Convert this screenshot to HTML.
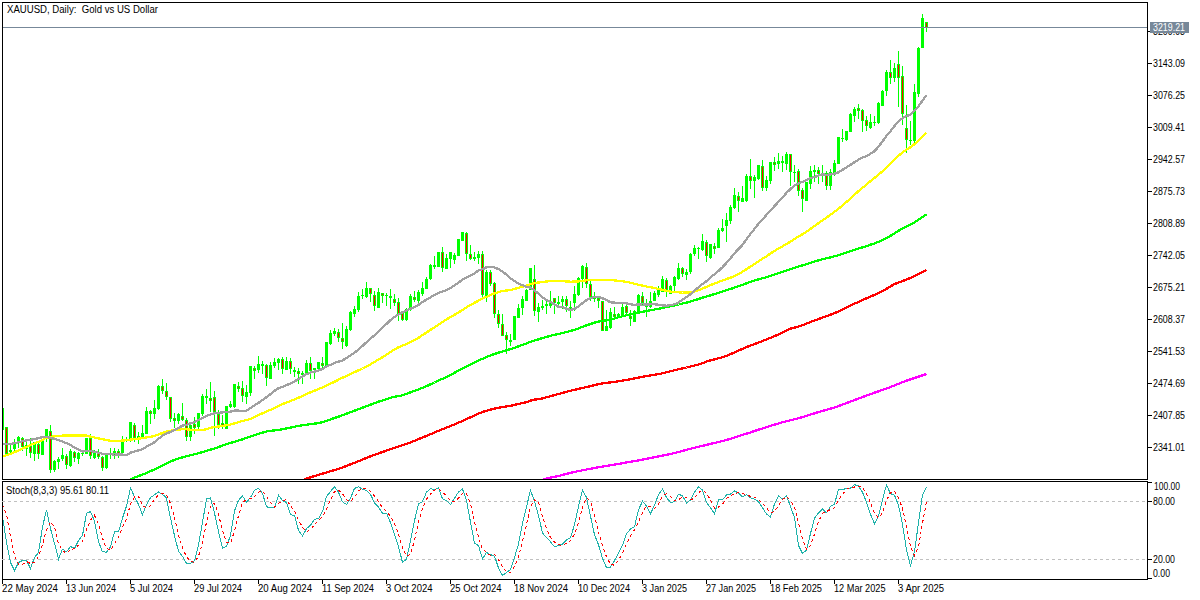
<!DOCTYPE html><html><head><meta charset="utf-8"><title>XAUUSD Daily</title><style>html,body{margin:0;padding:0;background:#fff;}svg{display:block;}text{white-space:pre;}</style></head><body>
<svg width="1200" height="600" viewBox="0 0 1200 600">
<defs><clipPath id="cm"><rect x="3" y="3" width="1144" height="476"/></clipPath><clipPath id="cs"><rect x="3" y="482" width="1144" height="97"/></clipPath></defs>
<rect width="1200" height="600" fill="#ffffff"/>
<g clip-path="url(#cm)" shape-rendering="crispEdges" fill="#00ff00"><rect x="2" y="408" width="1" height="22"/><rect x="1" y="408" width="3" height="22"/><rect x="6" y="427" width="1" height="27"/><rect x="5" y="427" width="3" height="27"/><rect x="6" y="428" width="1" height="25" fill="#ff0000"/><rect x="10" y="445" width="1" height="9"/><rect x="9" y="450" width="3" height="2"/><rect x="14" y="439" width="1" height="12"/><rect x="13" y="442" width="3" height="7"/><rect x="18" y="436" width="1" height="12"/><rect x="17" y="437" width="3" height="5"/><rect x="22" y="437" width="1" height="14"/><rect x="21" y="438" width="3" height="9"/><rect x="22" y="439" width="1" height="7" fill="#ff0000"/><rect x="26" y="442" width="1" height="14"/><rect x="25" y="445" width="3" height="4"/><rect x="30" y="438" width="1" height="20"/><rect x="29" y="446" width="3" height="7"/><rect x="30" y="447" width="1" height="5" fill="#ff0000"/><rect x="34" y="442" width="1" height="19"/><rect x="33" y="442" width="3" height="12"/><rect x="38" y="442" width="1" height="17"/><rect x="37" y="444" width="3" height="10"/><rect x="38" y="445" width="1" height="8" fill="#ff0000"/><rect x="42" y="441" width="1" height="14"/><rect x="41" y="441" width="3" height="14"/><rect x="46" y="429" width="1" height="13"/><rect x="45" y="429" width="3" height="7"/><rect x="50" y="425" width="1" height="48"/><rect x="49" y="431" width="3" height="39"/><rect x="50" y="432" width="1" height="37" fill="#ff0000"/><rect x="54" y="460" width="1" height="12"/><rect x="53" y="461" width="3" height="9"/><rect x="58" y="457" width="1" height="12"/><rect x="57" y="459" width="3" height="3"/><rect x="62" y="448" width="1" height="13"/><rect x="61" y="455" width="3" height="4"/><rect x="66" y="454" width="1" height="15"/><rect x="65" y="456" width="3" height="9"/><rect x="66" y="457" width="1" height="7" fill="#ff0000"/><rect x="70" y="449" width="1" height="18"/><rect x="69" y="451" width="3" height="15"/><rect x="74" y="451" width="1" height="11"/><rect x="73" y="452" width="3" height="6"/><rect x="74" y="453" width="1" height="4" fill="#ff0000"/><rect x="78" y="452" width="1" height="12"/><rect x="77" y="453" width="3" height="6"/><rect x="82" y="451" width="1" height="5"/><rect x="81" y="453" width="3" height="1"/><rect x="86" y="438" width="1" height="16"/><rect x="85" y="438" width="3" height="16"/><rect x="90" y="434" width="1" height="25"/><rect x="89" y="438" width="3" height="18"/><rect x="90" y="439" width="1" height="16" fill="#ff0000"/><rect x="94" y="450" width="1" height="9"/><rect x="93" y="452" width="3" height="6"/><rect x="98" y="449" width="1" height="10"/><rect x="97" y="452" width="3" height="5"/><rect x="98" y="453" width="1" height="3" fill="#ff0000"/><rect x="102" y="456" width="1" height="15"/><rect x="101" y="457" width="3" height="11"/><rect x="102" y="458" width="1" height="9" fill="#ff0000"/><rect x="106" y="454" width="1" height="15"/><rect x="105" y="454" width="3" height="14"/><rect x="110" y="448" width="1" height="11"/><rect x="109" y="454" width="3" height="1"/><rect x="114" y="448" width="1" height="11"/><rect x="113" y="451" width="3" height="4"/><rect x="118" y="449" width="1" height="9"/><rect x="117" y="451" width="3" height="3"/><rect x="118" y="452" width="1" height="1" fill="#ff0000"/><rect x="122" y="436" width="1" height="17"/><rect x="121" y="439" width="3" height="14"/><rect x="126" y="437" width="1" height="5"/><rect x="125" y="439" width="3" height="1"/><rect x="130" y="422" width="1" height="20"/><rect x="129" y="422" width="3" height="17"/><rect x="134" y="423" width="1" height="19"/><rect x="133" y="425" width="3" height="13"/><rect x="134" y="426" width="1" height="11" fill="#ff0000"/><rect x="138" y="432" width="1" height="12"/><rect x="137" y="436" width="3" height="2"/><rect x="142" y="425" width="1" height="13"/><rect x="141" y="433" width="3" height="4"/><rect x="146" y="407" width="1" height="27"/><rect x="145" y="411" width="3" height="23"/><rect x="150" y="410" width="1" height="14"/><rect x="149" y="411" width="3" height="3"/><rect x="150" y="412" width="1" height="1" fill="#ff0000"/><rect x="154" y="400" width="1" height="19"/><rect x="153" y="408" width="3" height="6"/><rect x="158" y="385" width="1" height="25"/><rect x="157" y="386" width="3" height="23"/><rect x="162" y="379" width="1" height="15"/><rect x="161" y="386" width="3" height="5"/><rect x="162" y="387" width="1" height="3" fill="#ff0000"/><rect x="166" y="383" width="1" height="17"/><rect x="165" y="391" width="3" height="6"/><rect x="166" y="392" width="1" height="4" fill="#ff0000"/><rect x="170" y="397" width="1" height="25"/><rect x="169" y="397" width="3" height="22"/><rect x="170" y="398" width="1" height="20" fill="#ff0000"/><rect x="174" y="413" width="1" height="15"/><rect x="173" y="418" width="3" height="3"/><rect x="174" y="419" width="1" height="1" fill="#ff0000"/><rect x="178" y="413" width="1" height="11"/><rect x="177" y="414" width="3" height="7"/><rect x="182" y="403" width="1" height="18"/><rect x="181" y="416" width="3" height="4"/><rect x="182" y="417" width="1" height="2" fill="#ff0000"/><rect x="186" y="418" width="1" height="23"/><rect x="185" y="420" width="3" height="17"/><rect x="186" y="421" width="1" height="15" fill="#ff0000"/><rect x="190" y="425" width="1" height="16"/><rect x="189" y="425" width="3" height="12"/><rect x="194" y="417" width="1" height="17"/><rect x="193" y="424" width="3" height="4"/><rect x="194" y="425" width="1" height="2" fill="#ff0000"/><rect x="198" y="413" width="1" height="16"/><rect x="197" y="413" width="3" height="14"/><rect x="202" y="394" width="1" height="22"/><rect x="201" y="396" width="3" height="18"/><rect x="206" y="389" width="1" height="15"/><rect x="205" y="396" width="3" height="2"/><rect x="210" y="382" width="1" height="30"/><rect x="209" y="398" width="3" height="3"/><rect x="210" y="399" width="1" height="1" fill="#ff0000"/><rect x="214" y="391" width="1" height="45"/><rect x="213" y="397" width="3" height="15"/><rect x="214" y="398" width="1" height="13" fill="#ff0000"/><rect x="218" y="410" width="1" height="19"/><rect x="217" y="414" width="3" height="11"/><rect x="218" y="415" width="1" height="9" fill="#ff0000"/><rect x="222" y="415" width="1" height="14"/><rect x="221" y="423" width="3" height="3"/><rect x="222" y="424" width="1" height="1" fill="#ff0000"/><rect x="226" y="406" width="1" height="23"/><rect x="225" y="406" width="3" height="23"/><rect x="230" y="401" width="1" height="7"/><rect x="229" y="404" width="3" height="3"/><rect x="234" y="384" width="1" height="24"/><rect x="233" y="384" width="3" height="23"/><rect x="238" y="382" width="1" height="10"/><rect x="237" y="386" width="3" height="3"/><rect x="238" y="387" width="1" height="1" fill="#ff0000"/><rect x="242" y="381" width="1" height="21"/><rect x="241" y="388" width="3" height="8"/><rect x="242" y="389" width="1" height="6" fill="#ff0000"/><rect x="246" y="385" width="1" height="19"/><rect x="245" y="392" width="3" height="5"/><rect x="250" y="366" width="1" height="30"/><rect x="249" y="366" width="3" height="27"/><rect x="254" y="366" width="1" height="13"/><rect x="253" y="368" width="3" height="3"/><rect x="254" y="369" width="1" height="1" fill="#ff0000"/><rect x="258" y="356" width="1" height="17"/><rect x="257" y="364" width="3" height="6"/><rect x="262" y="361" width="1" height="13"/><rect x="261" y="364" width="3" height="2"/><rect x="266" y="364" width="1" height="22"/><rect x="265" y="365" width="3" height="13"/><rect x="266" y="366" width="1" height="11" fill="#ff0000"/><rect x="270" y="362" width="1" height="17"/><rect x="269" y="365" width="3" height="14"/><rect x="274" y="358" width="1" height="10"/><rect x="273" y="362" width="3" height="4"/><rect x="278" y="358" width="1" height="12"/><rect x="277" y="359" width="3" height="4"/><rect x="282" y="357" width="1" height="17"/><rect x="281" y="359" width="3" height="10"/><rect x="282" y="360" width="1" height="8" fill="#ff0000"/><rect x="286" y="357" width="1" height="13"/><rect x="285" y="361" width="3" height="9"/><rect x="290" y="358" width="1" height="16"/><rect x="289" y="361" width="3" height="8"/><rect x="290" y="362" width="1" height="6" fill="#ff0000"/><rect x="294" y="367" width="1" height="10"/><rect x="293" y="370" width="3" height="2"/><rect x="298" y="368" width="1" height="16"/><rect x="297" y="371" width="3" height="3"/><rect x="298" y="372" width="1" height="1" fill="#ff0000"/><rect x="302" y="371" width="1" height="13"/><rect x="301" y="373" width="3" height="2"/><rect x="306" y="360" width="1" height="14"/><rect x="305" y="363" width="3" height="11"/><rect x="310" y="357" width="1" height="22"/><rect x="309" y="363" width="3" height="8"/><rect x="310" y="364" width="1" height="6" fill="#ff0000"/><rect x="314" y="368" width="1" height="11"/><rect x="313" y="368" width="3" height="2"/><rect x="318" y="362" width="1" height="7"/><rect x="317" y="362" width="3" height="7"/><rect x="322" y="357" width="1" height="12"/><rect x="321" y="363" width="3" height="3"/><rect x="322" y="364" width="1" height="1" fill="#ff0000"/><rect x="326" y="342" width="1" height="24"/><rect x="325" y="342" width="3" height="24"/><rect x="330" y="330" width="1" height="15"/><rect x="329" y="333" width="3" height="11"/><rect x="334" y="328" width="1" height="8"/><rect x="333" y="331" width="3" height="3"/><rect x="338" y="329" width="1" height="13"/><rect x="337" y="332" width="3" height="6"/><rect x="338" y="333" width="1" height="4" fill="#ff0000"/><rect x="342" y="323" width="1" height="26"/><rect x="341" y="338" width="3" height="4"/><rect x="342" y="339" width="1" height="2" fill="#ff0000"/><rect x="346" y="326" width="1" height="21"/><rect x="345" y="329" width="3" height="17"/><rect x="350" y="311" width="1" height="20"/><rect x="349" y="312" width="3" height="18"/><rect x="354" y="306" width="1" height="11"/><rect x="353" y="309" width="3" height="5"/><rect x="358" y="292" width="1" height="20"/><rect x="357" y="296" width="3" height="14"/><rect x="362" y="289" width="1" height="10"/><rect x="361" y="295" width="3" height="1"/><rect x="366" y="282" width="1" height="16"/><rect x="365" y="288" width="3" height="9"/><rect x="370" y="288" width="1" height="14"/><rect x="369" y="288" width="3" height="6"/><rect x="370" y="289" width="1" height="4" fill="#ff0000"/><rect x="374" y="291" width="1" height="20"/><rect x="373" y="295" width="3" height="11"/><rect x="374" y="296" width="1" height="9" fill="#ff0000"/><rect x="378" y="288" width="1" height="20"/><rect x="377" y="292" width="3" height="16"/><rect x="382" y="293" width="1" height="10"/><rect x="381" y="293" width="3" height="3"/><rect x="382" y="294" width="1" height="1" fill="#ff0000"/><rect x="386" y="293" width="1" height="13"/><rect x="385" y="295" width="3" height="1"/><rect x="390" y="289" width="1" height="20"/><rect x="389" y="296" width="3" height="2"/><rect x="394" y="294" width="1" height="12"/><rect x="393" y="299" width="3" height="4"/><rect x="394" y="300" width="1" height="2" fill="#ff0000"/><rect x="398" y="298" width="1" height="23"/><rect x="397" y="302" width="3" height="12"/><rect x="398" y="303" width="1" height="10" fill="#ff0000"/><rect x="402" y="313" width="1" height="8"/><rect x="401" y="313" width="3" height="7"/><rect x="402" y="314" width="1" height="5" fill="#ff0000"/><rect x="406" y="308" width="1" height="13"/><rect x="405" y="309" width="3" height="11"/><rect x="410" y="294" width="1" height="17"/><rect x="409" y="296" width="3" height="14"/><rect x="414" y="291" width="1" height="11"/><rect x="413" y="297" width="3" height="3"/><rect x="414" y="298" width="1" height="1" fill="#ff0000"/><rect x="418" y="290" width="1" height="13"/><rect x="417" y="292" width="3" height="9"/><rect x="422" y="282" width="1" height="14"/><rect x="421" y="288" width="3" height="6"/><rect x="426" y="277" width="1" height="12"/><rect x="425" y="279" width="3" height="10"/><rect x="430" y="264" width="1" height="16"/><rect x="429" y="265" width="3" height="14"/><rect x="434" y="256" width="1" height="13"/><rect x="433" y="265" width="3" height="2"/><rect x="438" y="252" width="1" height="15"/><rect x="437" y="252" width="3" height="15"/><rect x="442" y="247" width="1" height="25"/><rect x="441" y="252" width="3" height="16"/><rect x="442" y="253" width="1" height="14" fill="#ff0000"/><rect x="446" y="254" width="1" height="15"/><rect x="445" y="258" width="3" height="11"/><rect x="450" y="252" width="1" height="16"/><rect x="449" y="252" width="3" height="7"/><rect x="454" y="253" width="1" height="11"/><rect x="453" y="255" width="3" height="5"/><rect x="458" y="239" width="1" height="17"/><rect x="457" y="239" width="3" height="17"/><rect x="462" y="232" width="1" height="9"/><rect x="461" y="232" width="3" height="9"/><rect x="466" y="232" width="1" height="29"/><rect x="465" y="233" width="3" height="21"/><rect x="466" y="234" width="1" height="19" fill="#ff0000"/><rect x="470" y="245" width="1" height="15"/><rect x="469" y="254" width="3" height="5"/><rect x="470" y="255" width="1" height="3" fill="#ff0000"/><rect x="474" y="252" width="1" height="9"/><rect x="473" y="257" width="3" height="2"/><rect x="478" y="251" width="1" height="13"/><rect x="477" y="254" width="3" height="4"/><rect x="482" y="251" width="1" height="47"/><rect x="481" y="254" width="3" height="41"/><rect x="482" y="255" width="1" height="39" fill="#ff0000"/><rect x="486" y="270" width="1" height="32"/><rect x="485" y="272" width="3" height="24"/><rect x="490" y="270" width="1" height="16"/><rect x="489" y="272" width="3" height="12"/><rect x="490" y="273" width="1" height="10" fill="#ff0000"/><rect x="494" y="282" width="1" height="36"/><rect x="493" y="283" width="3" height="31"/><rect x="494" y="284" width="1" height="29" fill="#ff0000"/><rect x="498" y="310" width="1" height="18"/><rect x="497" y="314" width="3" height="10"/><rect x="498" y="315" width="1" height="8" fill="#ff0000"/><rect x="502" y="314" width="1" height="22"/><rect x="501" y="324" width="3" height="12"/><rect x="502" y="325" width="1" height="10" fill="#ff0000"/><rect x="506" y="332" width="1" height="22"/><rect x="505" y="335" width="3" height="5"/><rect x="506" y="336" width="1" height="3" fill="#ff0000"/><rect x="510" y="334" width="1" height="12"/><rect x="509" y="340" width="3" height="2"/><rect x="514" y="316" width="1" height="24"/><rect x="513" y="316" width="3" height="24"/><rect x="518" y="304" width="1" height="14"/><rect x="517" y="308" width="3" height="10"/><rect x="522" y="296" width="1" height="19"/><rect x="521" y="299" width="3" height="9"/><rect x="526" y="289" width="1" height="12"/><rect x="525" y="290" width="3" height="11"/><rect x="530" y="268" width="1" height="22"/><rect x="529" y="268" width="3" height="22"/><rect x="534" y="265" width="1" height="51"/><rect x="533" y="279" width="3" height="32"/><rect x="534" y="280" width="1" height="30" fill="#ff0000"/><rect x="538" y="303" width="1" height="19"/><rect x="537" y="307" width="3" height="5"/><rect x="542" y="300" width="1" height="10"/><rect x="541" y="306" width="3" height="2"/><rect x="546" y="300" width="1" height="14"/><rect x="545" y="304" width="3" height="2"/><rect x="550" y="291" width="1" height="17"/><rect x="549" y="301" width="3" height="5"/><rect x="554" y="298" width="1" height="16"/><rect x="553" y="298" width="3" height="5"/><rect x="554" y="299" width="1" height="3" fill="#ff0000"/><rect x="558" y="296" width="1" height="12"/><rect x="557" y="302" width="3" height="2"/><rect x="562" y="296" width="1" height="13"/><rect x="561" y="299" width="3" height="3"/><rect x="566" y="296" width="1" height="16"/><rect x="565" y="299" width="3" height="7"/><rect x="566" y="300" width="1" height="5" fill="#ff0000"/><rect x="570" y="301" width="1" height="17"/><rect x="569" y="307" width="3" height="1"/><rect x="574" y="286" width="1" height="25"/><rect x="573" y="294" width="3" height="9"/><rect x="578" y="277" width="1" height="19"/><rect x="577" y="278" width="3" height="17"/><rect x="582" y="265" width="1" height="23"/><rect x="581" y="266" width="3" height="13"/><rect x="586" y="263" width="1" height="25"/><rect x="585" y="267" width="3" height="17"/><rect x="586" y="268" width="1" height="15" fill="#ff0000"/><rect x="590" y="279" width="1" height="22"/><rect x="589" y="284" width="3" height="13"/><rect x="590" y="285" width="1" height="11" fill="#ff0000"/><rect x="594" y="292" width="1" height="10"/><rect x="593" y="297" width="3" height="2"/><rect x="598" y="296" width="1" height="12"/><rect x="597" y="298" width="3" height="3"/><rect x="598" y="299" width="1" height="1" fill="#ff0000"/><rect x="602" y="301" width="1" height="30"/><rect x="601" y="301" width="3" height="30"/><rect x="602" y="302" width="1" height="28" fill="#ff0000"/><rect x="606" y="310" width="1" height="21"/><rect x="605" y="326" width="3" height="5"/><rect x="610" y="308" width="1" height="21"/><rect x="609" y="312" width="3" height="16"/><rect x="614" y="307" width="1" height="11"/><rect x="613" y="314" width="3" height="3"/><rect x="614" y="315" width="1" height="1" fill="#ff0000"/><rect x="618" y="313" width="1" height="5"/><rect x="617" y="314" width="3" height="4"/><rect x="622" y="304" width="1" height="12"/><rect x="621" y="307" width="3" height="9"/><rect x="626" y="305" width="1" height="9"/><rect x="625" y="306" width="3" height="7"/><rect x="626" y="307" width="1" height="5" fill="#ff0000"/><rect x="630" y="310" width="1" height="16"/><rect x="629" y="316" width="3" height="3"/><rect x="630" y="317" width="1" height="1" fill="#ff0000"/><rect x="634" y="310" width="1" height="12"/><rect x="633" y="311" width="3" height="11"/><rect x="638" y="294" width="1" height="18"/><rect x="637" y="295" width="3" height="17"/><rect x="642" y="292" width="1" height="14"/><rect x="641" y="296" width="3" height="7"/><rect x="642" y="297" width="1" height="5" fill="#ff0000"/><rect x="646" y="299" width="1" height="18"/><rect x="645" y="304" width="3" height="3"/><rect x="646" y="305" width="1" height="1" fill="#ff0000"/><rect x="650" y="292" width="1" height="16"/><rect x="649" y="301" width="3" height="6"/><rect x="654" y="291" width="1" height="10"/><rect x="653" y="293" width="3" height="8"/><rect x="658" y="286" width="1" height="11"/><rect x="657" y="289" width="3" height="6"/><rect x="662" y="276" width="1" height="16"/><rect x="661" y="279" width="3" height="13"/><rect x="666" y="278" width="1" height="19"/><rect x="665" y="280" width="3" height="10"/><rect x="666" y="281" width="1" height="8" fill="#ff0000"/><rect x="670" y="285" width="1" height="9"/><rect x="669" y="286" width="3" height="8"/><rect x="674" y="276" width="1" height="15"/><rect x="673" y="277" width="3" height="9"/><rect x="678" y="263" width="1" height="17"/><rect x="677" y="268" width="3" height="11"/><rect x="682" y="267" width="1" height="10"/><rect x="681" y="268" width="3" height="6"/><rect x="682" y="269" width="1" height="4" fill="#ff0000"/><rect x="686" y="269" width="1" height="11"/><rect x="685" y="272" width="3" height="3"/><rect x="690" y="253" width="1" height="21"/><rect x="689" y="254" width="3" height="18"/><rect x="694" y="245" width="1" height="11"/><rect x="693" y="248" width="3" height="6"/><rect x="698" y="247" width="1" height="12"/><rect x="697" y="248" width="3" height="1"/><rect x="702" y="234" width="1" height="17"/><rect x="701" y="241" width="3" height="9"/><rect x="706" y="240" width="1" height="22"/><rect x="705" y="242" width="3" height="14"/><rect x="706" y="243" width="1" height="12" fill="#ff0000"/><rect x="710" y="244" width="1" height="15"/><rect x="709" y="244" width="3" height="14"/><rect x="714" y="243" width="1" height="11"/><rect x="713" y="246" width="3" height="3"/><rect x="714" y="247" width="1" height="1" fill="#ff0000"/><rect x="718" y="228" width="1" height="20"/><rect x="717" y="230" width="3" height="18"/><rect x="722" y="219" width="1" height="13"/><rect x="721" y="228" width="3" height="3"/><rect x="726" y="213" width="1" height="29"/><rect x="725" y="220" width="3" height="6"/><rect x="730" y="205" width="1" height="19"/><rect x="729" y="207" width="3" height="14"/><rect x="734" y="188" width="1" height="21"/><rect x="733" y="195" width="3" height="13"/><rect x="738" y="192" width="1" height="20"/><rect x="737" y="196" width="3" height="5"/><rect x="738" y="197" width="1" height="3" fill="#ff0000"/><rect x="742" y="186" width="1" height="16"/><rect x="741" y="198" width="3" height="4"/><rect x="746" y="174" width="1" height="28"/><rect x="745" y="176" width="3" height="25"/><rect x="750" y="159" width="1" height="30"/><rect x="749" y="176" width="3" height="5"/><rect x="750" y="177" width="1" height="3" fill="#ff0000"/><rect x="754" y="175" width="1" height="23"/><rect x="753" y="177" width="3" height="4"/><rect x="758" y="165" width="1" height="15"/><rect x="757" y="165" width="3" height="14"/><rect x="762" y="160" width="1" height="31"/><rect x="761" y="166" width="3" height="22"/><rect x="762" y="167" width="1" height="20" fill="#ff0000"/><rect x="766" y="176" width="1" height="15"/><rect x="765" y="180" width="3" height="8"/><rect x="770" y="162" width="1" height="22"/><rect x="769" y="162" width="3" height="19"/><rect x="774" y="157" width="1" height="14"/><rect x="773" y="162" width="3" height="3"/><rect x="774" y="163" width="1" height="1" fill="#ff0000"/><rect x="778" y="153" width="1" height="16"/><rect x="777" y="161" width="3" height="3"/><rect x="782" y="156" width="1" height="16"/><rect x="781" y="161" width="3" height="2"/><rect x="786" y="152" width="1" height="18"/><rect x="785" y="154" width="3" height="10"/><rect x="790" y="154" width="1" height="32"/><rect x="789" y="154" width="3" height="18"/><rect x="790" y="155" width="1" height="16" fill="#ff0000"/><rect x="794" y="165" width="1" height="17"/><rect x="793" y="172" width="3" height="1"/><rect x="798" y="169" width="1" height="27"/><rect x="797" y="171" width="3" height="20"/><rect x="798" y="172" width="1" height="18" fill="#ff0000"/><rect x="802" y="188" width="1" height="24"/><rect x="801" y="190" width="3" height="9"/><rect x="802" y="191" width="1" height="7" fill="#ff0000"/><rect x="806" y="182" width="1" height="19"/><rect x="805" y="182" width="3" height="19"/><rect x="810" y="166" width="1" height="23"/><rect x="809" y="171" width="3" height="13"/><rect x="814" y="165" width="1" height="17"/><rect x="813" y="170" width="3" height="2"/><rect x="818" y="167" width="1" height="17"/><rect x="817" y="170" width="3" height="4"/><rect x="818" y="171" width="1" height="2" fill="#ff0000"/><rect x="822" y="165" width="1" height="17"/><rect x="821" y="173" width="3" height="1"/><rect x="826" y="171" width="1" height="19"/><rect x="825" y="173" width="3" height="13"/><rect x="826" y="174" width="1" height="11" fill="#ff0000"/><rect x="830" y="169" width="1" height="21"/><rect x="829" y="172" width="3" height="14"/><rect x="834" y="160" width="1" height="16"/><rect x="833" y="163" width="3" height="12"/><rect x="838" y="137" width="1" height="27"/><rect x="837" y="137" width="3" height="27"/><rect x="842" y="129" width="1" height="13"/><rect x="841" y="138" width="3" height="1"/><rect x="846" y="131" width="1" height="10"/><rect x="845" y="131" width="3" height="9"/><rect x="850" y="113" width="1" height="19"/><rect x="849" y="114" width="3" height="18"/><rect x="854" y="107" width="1" height="15"/><rect x="853" y="109" width="3" height="7"/><rect x="858" y="104" width="1" height="15"/><rect x="857" y="108" width="3" height="3"/><rect x="858" y="109" width="1" height="1" fill="#ff0000"/><rect x="862" y="109" width="1" height="23"/><rect x="861" y="110" width="3" height="11"/><rect x="862" y="111" width="1" height="9" fill="#ff0000"/><rect x="866" y="116" width="1" height="15"/><rect x="865" y="120" width="3" height="6"/><rect x="866" y="121" width="1" height="4" fill="#ff0000"/><rect x="870" y="114" width="1" height="15"/><rect x="869" y="122" width="3" height="6"/><rect x="874" y="116" width="1" height="10"/><rect x="873" y="122" width="3" height="1"/><rect x="878" y="102" width="1" height="22"/><rect x="877" y="103" width="3" height="20"/><rect x="882" y="90" width="1" height="16"/><rect x="881" y="91" width="3" height="15"/><rect x="886" y="70" width="1" height="26"/><rect x="885" y="72" width="3" height="19"/><rect x="890" y="60" width="1" height="24"/><rect x="889" y="72" width="3" height="6"/><rect x="890" y="73" width="1" height="4" fill="#ff0000"/><rect x="894" y="63" width="1" height="19"/><rect x="893" y="68" width="3" height="10"/><rect x="898" y="51" width="1" height="56"/><rect x="897" y="64" width="3" height="14"/><rect x="898" y="65" width="1" height="12" fill="#ff0000"/><rect x="902" y="66" width="1" height="59"/><rect x="901" y="76" width="3" height="38"/><rect x="902" y="77" width="1" height="36" fill="#ff0000"/><rect x="906" y="105" width="1" height="48"/><rect x="905" y="128" width="3" height="12"/><rect x="906" y="129" width="1" height="10" fill="#ff0000"/><rect x="910" y="121" width="1" height="24"/><rect x="909" y="140" width="3" height="1"/><rect x="914" y="84" width="1" height="60"/><rect x="913" y="92" width="3" height="49"/><rect x="918" y="47" width="1" height="50"/><rect x="917" y="48" width="3" height="46"/><rect x="922" y="14" width="1" height="34"/><rect x="921" y="18" width="3" height="30"/><rect x="926" y="22" width="1" height="10"/><rect x="925" y="22" width="3" height="6"/><rect x="926" y="23" width="1" height="4" fill="#ff0000"/></g>
<g clip-path="url(#cm)" stroke-linejoin="round" shape-rendering="crispEdges">
<polyline points="538.5,481.0 542.5,479.8 546.5,478.5 550.5,477.6 554.5,476.8 558.5,476.0 562.5,474.9 566.5,473.9 570.5,472.9 574.5,471.9 578.5,471.1 582.5,470.3 586.5,469.5 590.5,468.7 594.5,468.0 598.5,467.3 602.5,466.6 606.5,465.9 610.5,465.2 614.5,464.6 618.5,463.9 622.5,463.2 626.5,462.5 630.5,461.8 634.5,461.1 638.5,460.4 642.5,459.6 646.5,458.8 650.5,458.0 654.5,457.2 658.5,456.4 662.5,455.6 666.5,454.8 670.5,454.0 674.5,453.1 678.5,452.0 682.5,450.9 686.5,449.8 690.5,448.7 694.5,447.7 698.5,446.8 702.5,445.8 706.5,444.9 710.5,443.9 714.5,443.0 718.5,442.0 722.5,441.1 726.5,440.0 730.5,438.8 734.5,437.5 738.5,436.2 742.5,434.9 746.5,433.7 750.5,432.4 754.5,431.0 758.5,429.7 762.5,428.4 766.5,427.1 770.5,425.9 774.5,424.7 778.5,423.5 782.5,422.3 786.5,421.2 790.5,420.2 794.5,419.2 798.5,418.2 802.5,417.1 806.5,415.8 810.5,414.6 814.5,413.3 818.5,412.1 822.5,410.9 826.5,409.8 830.5,408.7 834.5,407.5 838.5,406.1 842.5,404.6 846.5,403.1 850.5,401.6 854.5,400.0 858.5,398.6 862.5,397.1 866.5,395.6 870.5,394.1 874.5,392.7 878.5,391.3 882.5,389.9 886.5,388.5 890.5,387.0 894.5,385.4 898.5,383.8 902.5,382.2 906.5,380.7 910.5,379.3 914.5,378.0 918.5,376.7 922.5,375.3 926.5,374.0" fill="none" stroke="#ff00ff" stroke-width="2.3" />
<polyline points="298.5,481.5 302.5,480.5 306.5,478.6 310.5,477.3 314.5,476.1 318.5,474.9 322.5,473.7 326.5,472.5 330.5,471.3 334.5,470.1 338.5,468.9 342.5,467.5 346.5,465.9 350.5,464.3 354.5,462.8 358.5,461.2 362.5,459.6 366.5,457.9 370.5,456.3 374.5,454.8 378.5,453.4 382.5,452.0 386.5,450.6 390.5,449.2 394.5,447.9 398.5,446.6 402.5,445.2 406.5,443.9 410.5,442.4 414.5,440.8 418.5,439.1 422.5,437.5 426.5,435.9 430.5,434.2 434.5,432.5 438.5,430.8 442.5,429.2 446.5,427.6 450.5,426.0 454.5,424.4 458.5,422.7 462.5,420.9 466.5,419.1 470.5,417.3 474.5,415.5 478.5,413.7 482.5,411.9 486.5,410.8 490.5,409.7 494.5,408.6 498.5,407.8 502.5,407.1 506.5,406.4 510.5,405.8 514.5,404.9 518.5,404.0 522.5,403.1 526.5,402.1 530.5,400.7 534.5,399.6 538.5,399.2 542.5,398.4 546.5,397.3 550.5,396.2 554.5,395.1 558.5,394.0 562.5,392.9 566.5,391.8 570.5,390.8 574.5,389.8 578.5,388.9 582.5,388.0 586.5,387.1 590.5,386.1 594.5,385.1 598.5,384.2 602.5,383.4 606.5,382.9 610.5,382.4 614.5,381.9 618.5,381.2 622.5,380.6 626.5,379.9 630.5,379.2 634.5,378.4 638.5,377.6 642.5,376.8 646.5,376.0 650.5,375.4 654.5,374.8 658.5,374.1 662.5,373.3 666.5,372.2 670.5,371.2 674.5,370.3 678.5,369.3 682.5,368.4 686.5,367.5 690.5,366.5 694.5,365.5 698.5,364.5 702.5,363.2 706.5,361.6 710.5,360.4 714.5,359.4 718.5,358.3 722.5,357.3 726.5,355.8 730.5,354.2 734.5,352.4 738.5,350.6 742.5,348.8 746.5,347.1 750.5,345.6 754.5,344.1 758.5,342.6 762.5,341.0 766.5,339.4 770.5,337.8 774.5,336.2 778.5,334.4 782.5,332.5 786.5,330.6 790.5,328.7 794.5,327.6 798.5,326.5 802.5,325.2 806.5,323.6 810.5,322.0 814.5,320.5 818.5,319.1 822.5,317.6 826.5,316.2 830.5,314.7 834.5,313.1 838.5,311.5 842.5,309.7 846.5,307.7 850.5,305.7 854.5,303.7 858.5,301.9 862.5,300.1 866.5,298.3 870.5,296.6 874.5,294.9 878.5,293.2 882.5,291.2 886.5,288.8 890.5,286.4 894.5,284.1 898.5,282.5 902.5,281.0 906.5,279.6 910.5,277.9 914.5,276.2 918.5,274.2 922.5,272.1 926.5,270.0" fill="none" stroke="#ff0000" stroke-width="2.3" />
<polyline points="130.5,479.7 134.5,477.6 138.5,476.1 142.5,474.5 146.5,473.0 150.5,471.2 154.5,469.4 158.5,467.6 162.5,465.7 166.5,463.7 170.5,461.7 174.5,459.8 178.5,458.6 182.5,457.4 186.5,456.2 190.5,455.2 194.5,454.2 198.5,453.2 202.5,452.1 206.5,450.9 210.5,449.7 214.5,448.5 218.5,447.1 222.5,445.6 226.5,444.2 230.5,443.0 234.5,441.8 238.5,440.6 242.5,439.3 246.5,437.9 250.5,436.5 254.5,435.1 258.5,433.9 262.5,432.7 266.5,431.5 270.5,430.9 274.5,430.4 278.5,429.9 282.5,429.2 286.5,428.4 290.5,427.6 294.5,426.7 298.5,425.9 302.5,425.2 306.5,424.7 310.5,424.1 314.5,423.6 318.5,423.1 322.5,422.1 326.5,420.8 330.5,419.4 334.5,418.0 338.5,416.7 342.5,415.2 346.5,413.7 350.5,412.2 354.5,410.7 358.5,409.2 362.5,407.7 366.5,406.2 370.5,404.7 374.5,403.2 378.5,401.7 382.5,400.4 386.5,399.2 390.5,397.9 394.5,396.7 398.5,396.2 402.5,395.3 406.5,393.8 410.5,392.3 414.5,390.9 418.5,389.4 422.5,387.8 426.5,386.2 430.5,384.3 434.5,382.5 438.5,380.5 442.5,378.8 446.5,377.0 450.5,374.9 454.5,372.8 458.5,370.6 462.5,368.4 466.5,366.3 470.5,364.4 474.5,362.3 478.5,360.4 482.5,358.8 486.5,357.1 490.5,355.4 494.5,354.0 498.5,352.7 502.5,351.4 506.5,350.2 510.5,349.1 514.5,347.8 518.5,346.3 522.5,344.9 526.5,343.4 530.5,341.9 534.5,340.6 538.5,339.3 542.5,338.0 546.5,337.0 550.5,335.8 554.5,334.8 558.5,334.0 562.5,333.0 566.5,332.1 570.5,331.0 574.5,329.8 578.5,328.4 582.5,326.9 586.5,325.3 590.5,324.0 594.5,322.7 598.5,321.6 602.5,321.0 606.5,320.3 610.5,319.4 614.5,318.5 618.5,317.3 622.5,316.2 626.5,315.2 630.5,314.4 634.5,313.6 638.5,312.7 642.5,311.8 646.5,310.9 650.5,310.3 654.5,309.5 658.5,308.8 662.5,307.9 666.5,307.0 670.5,306.2 674.5,305.4 678.5,304.5 682.5,303.5 686.5,302.6 690.5,301.5 694.5,300.3 698.5,299.0 702.5,297.7 706.5,296.6 710.5,295.3 714.5,294.1 718.5,292.8 722.5,291.4 726.5,290.2 730.5,289.0 734.5,287.6 738.5,286.2 742.5,284.8 746.5,283.3 750.5,281.9 754.5,280.6 758.5,279.3 762.5,278.2 766.5,277.2 770.5,275.9 774.5,274.4 778.5,273.1 782.5,271.8 786.5,270.4 790.5,269.1 794.5,267.8 798.5,266.6 802.5,265.4 806.5,264.1 810.5,262.9 814.5,261.6 818.5,260.4 822.5,259.2 826.5,258.3 830.5,257.4 834.5,256.3 838.5,255.2 842.5,253.9 846.5,252.6 850.5,251.2 854.5,249.8 858.5,248.5 862.5,247.4 866.5,246.1 870.5,244.7 874.5,243.4 878.5,241.9 882.5,239.8 886.5,237.8 890.5,235.8 894.5,233.3 898.5,230.8 902.5,228.6 906.5,226.6 910.5,224.6 914.5,222.3 918.5,219.8 922.5,216.9 926.5,214.3" fill="none" stroke="#00ff00" stroke-width="2.3" />
<polyline points="2.5,456.5 6.5,455.3 10.5,453.8 14.5,452.1 18.5,450.5 22.5,448.7 26.5,446.8 30.5,445.0 34.5,443.4 38.5,441.8 42.5,439.9 46.5,437.6 50.5,436.9 54.5,436.4 58.5,435.9 62.5,435.6 66.5,435.6 70.5,435.6 74.5,435.6 78.5,435.6 82.5,435.6 86.5,435.6 90.5,436.6 94.5,437.5 98.5,438.4 102.5,439.2 106.5,440.0 110.5,440.7 114.5,440.9 118.5,440.8 122.5,440.6 126.5,440.1 130.5,439.6 134.5,439.1 138.5,438.6 142.5,438.1 146.5,437.5 150.5,436.9 154.5,435.9 158.5,434.4 162.5,433.0 166.5,431.6 170.5,430.8 174.5,430.2 178.5,429.8 182.5,429.2 186.5,429.2 190.5,429.8 194.5,430.0 198.5,430.2 202.5,430.0 206.5,429.2 210.5,427.9 214.5,427.0 218.5,426.5 222.5,426.0 226.5,425.3 230.5,424.6 234.5,423.4 238.5,422.2 242.5,421.0 246.5,420.1 250.5,418.9 254.5,417.1 258.5,415.0 262.5,413.3 266.5,411.5 270.5,409.8 274.5,407.9 278.5,406.0 282.5,404.1 286.5,402.5 290.5,401.0 294.5,399.4 298.5,397.7 302.5,396.0 306.5,394.1 310.5,392.3 314.5,390.7 318.5,389.0 322.5,387.4 326.5,385.5 330.5,383.7 334.5,381.8 338.5,379.7 342.5,377.7 346.5,376.1 350.5,374.1 354.5,372.2 358.5,370.3 362.5,368.5 366.5,366.5 370.5,364.3 374.5,361.9 378.5,359.4 382.5,357.2 386.5,354.7 390.5,352.0 394.5,349.5 398.5,347.2 402.5,345.6 406.5,344.0 410.5,342.2 414.5,340.2 418.5,337.8 422.5,335.1 426.5,332.6 430.5,329.8 434.5,327.3 438.5,324.7 442.5,322.0 446.5,319.4 450.5,317.1 454.5,314.8 458.5,312.5 462.5,309.9 466.5,307.3 470.5,304.9 474.5,302.8 478.5,300.7 482.5,298.5 486.5,296.8 490.5,295.0 494.5,293.3 498.5,292.2 502.5,291.0 506.5,290.5 510.5,290.0 514.5,289.0 518.5,287.8 522.5,286.6 526.5,285.5 530.5,284.3 534.5,283.0 538.5,282.5 542.5,282.1 546.5,281.5 550.5,281.1 554.5,281.0 558.5,281.1 562.5,281.2 566.5,281.5 570.5,281.7 574.5,281.6 578.5,281.4 582.5,280.9 586.5,280.3 590.5,280.1 594.5,280.0 598.5,280.0 602.5,279.7 606.5,279.8 610.5,280.0 614.5,280.4 618.5,280.8 622.5,281.3 626.5,281.8 630.5,282.7 634.5,283.8 638.5,284.7 642.5,285.6 646.5,286.5 650.5,287.3 654.5,288.0 658.5,289.0 662.5,289.9 666.5,290.8 670.5,291.6 674.5,292.1 678.5,292.3 682.5,292.6 686.5,292.6 690.5,292.3 694.5,291.5 698.5,290.3 702.5,288.7 706.5,286.8 710.5,285.0 714.5,283.6 718.5,282.0 722.5,280.5 726.5,279.0 730.5,277.7 734.5,276.2 738.5,274.0 742.5,271.7 746.5,269.2 750.5,266.5 754.5,264.1 758.5,261.4 762.5,258.7 766.5,256.3 770.5,253.5 774.5,251.0 778.5,248.5 782.5,246.3 786.5,244.1 790.5,241.6 794.5,239.0 798.5,236.5 802.5,234.2 806.5,231.7 810.5,228.9 814.5,226.0 818.5,223.1 822.5,220.3 826.5,217.6 830.5,214.8 834.5,211.8 838.5,208.7 842.5,205.4 846.5,202.0 850.5,198.5 854.5,194.8 858.5,191.1 862.5,187.8 866.5,184.6 870.5,181.1 874.5,177.9 878.5,174.7 882.5,171.2 886.5,167.2 890.5,163.3 894.5,159.7 898.5,155.8 902.5,152.4 906.5,149.7 910.5,147.2 914.5,144.1 918.5,140.4 922.5,136.3 926.5,132.5" fill="none" stroke="#ffff00" stroke-width="2.3" />
<polyline points="2.5,443.8 6.5,443.8 10.5,443.8 14.5,443.3 18.5,442.3 22.5,441.3 26.5,440.4 30.5,439.7 34.5,439.0 38.5,438.2 42.5,437.1 46.5,436.9 50.5,437.8 54.5,438.9 58.5,440.0 62.5,441.5 66.5,443.2 70.5,445.0 74.5,447.5 78.5,449.4 82.5,451.7 86.5,450.9 90.5,451.2 94.5,451.7 98.5,452.7 102.5,453.8 106.5,454.2 110.5,454.2 114.5,454.6 118.5,454.6 122.5,454.6 126.5,455.1 130.5,452.7 134.5,451.5 138.5,450.4 142.5,449.3 146.5,446.6 150.5,444.7 154.5,442.2 158.5,438.8 162.5,435.7 166.5,433.6 170.5,431.8 174.5,430.2 178.5,428.0 182.5,425.6 186.5,424.8 190.5,423.3 194.5,422.2 198.5,420.1 202.5,417.9 206.5,415.8 210.5,414.6 214.5,413.3 218.5,412.8 222.5,412.4 226.5,412.2 230.5,411.7 234.5,410.5 238.5,410.6 242.5,410.9 246.5,410.6 250.5,408.0 254.5,405.4 258.5,402.9 262.5,400.1 266.5,397.2 270.5,394.2 274.5,390.9 278.5,388.2 282.5,386.9 286.5,385.1 290.5,383.6 294.5,381.5 298.5,379.0 302.5,376.3 306.5,374.2 310.5,372.5 314.5,371.7 318.5,370.5 322.5,368.9 326.5,366.4 330.5,364.8 334.5,362.9 338.5,361.6 342.5,360.5 346.5,358.0 350.5,355.4 354.5,352.7 358.5,349.6 362.5,345.9 366.5,342.2 370.5,338.5 374.5,335.3 378.5,331.2 382.5,327.3 386.5,323.9 390.5,320.1 394.5,316.9 398.5,314.5 402.5,312.2 406.5,310.5 410.5,308.7 414.5,307.1 418.5,304.8 422.5,302.1 426.5,299.6 430.5,297.3 434.5,295.1 438.5,292.9 442.5,291.6 446.5,290.1 450.5,288.0 454.5,285.4 458.5,282.7 462.5,279.6 466.5,277.6 470.5,275.7 474.5,273.4 478.5,270.4 482.5,269.2 486.5,267.3 490.5,266.8 494.5,267.5 498.5,269.1 502.5,271.5 506.5,274.6 510.5,278.3 514.5,280.9 518.5,283.7 522.5,285.2 526.5,286.8 530.5,287.6 534.5,290.4 538.5,293.8 542.5,297.5 546.5,300.0 550.5,302.1 554.5,304.4 558.5,306.8 562.5,307.0 566.5,308.7 570.5,309.9 574.5,308.8 578.5,306.5 582.5,303.0 586.5,300.2 590.5,298.0 594.5,297.1 598.5,296.7 602.5,298.3 606.5,300.1 610.5,302.3 614.5,302.6 618.5,303.0 622.5,303.0 626.5,303.4 630.5,304.3 634.5,304.8 638.5,304.4 642.5,304.6 646.5,304.6 650.5,304.3 654.5,304.2 658.5,304.8 662.5,305.4 666.5,305.7 670.5,305.2 674.5,304.2 678.5,302.5 682.5,299.7 686.5,297.0 690.5,294.1 694.5,290.6 698.5,287.3 702.5,284.0 706.5,281.1 710.5,277.4 714.5,274.2 718.5,270.9 722.5,267.2 726.5,262.9 730.5,258.2 734.5,253.3 738.5,248.9 742.5,244.9 746.5,239.1 750.5,233.9 754.5,228.9 758.5,223.8 762.5,219.5 766.5,214.9 770.5,210.3 774.5,206.1 778.5,201.8 782.5,197.8 786.5,192.7 790.5,189.1 794.5,185.3 798.5,183.4 802.5,181.9 806.5,180.0 810.5,178.2 814.5,177.0 818.5,175.6 822.5,174.4 826.5,174.9 830.5,174.4 834.5,173.7 838.5,172.3 842.5,169.8 846.5,167.4 850.5,164.9 854.5,162.2 858.5,159.6 862.5,157.6 866.5,156.2 870.5,153.7 874.5,151.2 878.5,146.8 882.5,141.4 886.5,135.9 890.5,131.2 894.5,126.1 898.5,121.3 902.5,118.3 906.5,116.1 910.5,114.5 914.5,110.9 918.5,106.4 922.5,100.5 926.5,95.3" fill="none" stroke="#a0a0a0" stroke-width="2.3" />
</g>
<g shape-rendering="crispEdges">
<rect x="3" y="27" width="1144" height="1" fill="#778899"/>
<rect x="2.5" y="2.5" width="1145" height="477" fill="none" stroke="#000"/>
<rect x="2.5" y="481.5" width="1145" height="98" fill="none" stroke="#000"/>
<rect x="1148" y="31" width="4" height="1" fill="#000"/>
<rect x="1148" y="63" width="4" height="1" fill="#000"/>
<rect x="1148" y="95" width="4" height="1" fill="#000"/>
<rect x="1148" y="127" width="4" height="1" fill="#000"/>
<rect x="1148" y="159" width="4" height="1" fill="#000"/>
<rect x="1148" y="191" width="4" height="1" fill="#000"/>
<rect x="1148" y="223" width="4" height="1" fill="#000"/>
<rect x="1148" y="255" width="4" height="1" fill="#000"/>
<rect x="1148" y="287" width="4" height="1" fill="#000"/>
<rect x="1148" y="319" width="4" height="1" fill="#000"/>
<rect x="1148" y="351" width="4" height="1" fill="#000"/>
<rect x="1148" y="383" width="4" height="1" fill="#000"/>
<rect x="1148" y="415" width="4" height="1" fill="#000"/>
<rect x="1148" y="447" width="4" height="1" fill="#000"/>
<rect x="1148" y="482" width="4" height="1" fill="#000"/>
<rect x="1148" y="501" width="4" height="1" fill="#000"/>
<rect x="1148" y="559" width="4" height="1" fill="#000"/>
<rect x="1148" y="578" width="4" height="1" fill="#000"/>
<rect x="2" y="580" width="1" height="4" fill="#000"/>
<rect x="66" y="580" width="1" height="4" fill="#000"/>
<rect x="130" y="580" width="1" height="4" fill="#000"/>
<rect x="194" y="580" width="1" height="4" fill="#000"/>
<rect x="258" y="580" width="1" height="4" fill="#000"/>
<rect x="322" y="580" width="1" height="4" fill="#000"/>
<rect x="386" y="580" width="1" height="4" fill="#000"/>
<rect x="450" y="580" width="1" height="4" fill="#000"/>
<rect x="514" y="580" width="1" height="4" fill="#000"/>
<rect x="578" y="580" width="1" height="4" fill="#000"/>
<rect x="642" y="580" width="1" height="4" fill="#000"/>
<rect x="706" y="580" width="1" height="4" fill="#000"/>
<rect x="770" y="580" width="1" height="4" fill="#000"/>
<rect x="834" y="580" width="1" height="4" fill="#000"/>
<rect x="898" y="580" width="1" height="4" fill="#000"/>
<line x1="2" y1="501.5" x2="1147" y2="501.5" stroke="#c0c0c0" stroke-dasharray="3,3"/>
<line x1="2" y1="559.5" x2="1147" y2="559.5" stroke="#c0c0c0" stroke-dasharray="3,3"/>
</g>
<g clip-path="url(#cs)" shape-rendering="crispEdges">
<polyline points="2.5,516.5 6.5,542.5 10.5,562.5 14.5,570.5 18.5,562.5 22.5,560.5 26.5,560.5 30.5,568.5 34.5,557.5 38.5,552.5 42.5,527.1 46.5,509.8 50.5,528.6 54.5,543.4 58.5,559.2 62.5,549.2 66.5,551.8 70.5,546.5 74.5,548.5 78.5,540.5 82.5,535.3 86.5,513.4 90.5,511.5 94.5,521.0 98.5,541.7 102.5,551.8 106.5,552.1 110.5,546.8 114.5,531.9 118.5,531.9 122.5,518.1 126.5,506.1 130.5,487.8 134.5,496.9 138.5,504.3 142.5,514.7 146.5,504.6 150.5,497.6 154.5,494.8 158.5,491.9 162.5,494.3 166.5,498.0 170.5,518.1 174.5,535.7 178.5,551.2 182.5,556.4 186.5,563.4 190.5,563.2 194.5,560.8 198.5,544.8 202.5,522.5 206.5,498.7 210.5,497.8 214.5,513.1 218.5,531.7 222.5,548.0 226.5,546.2 230.5,535.6 234.5,510.9 238.5,500.3 242.5,496.0 246.5,502.1 250.5,497.5 254.5,490.2 258.5,488.4 262.5,493.5 266.5,506.7 270.5,507.9 274.5,507.2 278.5,495.2 282.5,500.5 286.5,502.5 290.5,514.9 294.5,515.2 298.5,530.4 302.5,536.0 306.5,528.7 310.5,525.2 314.5,519.2 318.5,518.6 322.5,511.5 326.5,496.5 330.5,491.5 334.5,486.7 338.5,492.3 342.5,501.9 346.5,504.5 350.5,498.1 354.5,488.4 358.5,486.7 362.5,489.3 366.5,490.6 370.5,494.4 374.5,502.8 378.5,507.2 382.5,513.1 386.5,513.1 390.5,522.7 394.5,534.1 398.5,546.6 402.5,562.4 406.5,559.2 410.5,540.9 414.5,520.7 418.5,503.6 422.5,501.6 426.5,492.1 430.5,488.7 434.5,489.7 438.5,488.0 442.5,498.7 446.5,500.5 450.5,504.6 454.5,498.2 458.5,492.0 462.5,489.1 466.5,500.4 470.5,522.1 474.5,543.2 478.5,545.6 482.5,559.0 486.5,552.5 490.5,554.6 494.5,556.1 498.5,567.9 502.5,575.5 506.5,572.5 510.5,569.7 514.5,557.4 518.5,544.1 522.5,523.2 526.5,506.8 530.5,490.3 534.5,501.4 538.5,515.6 542.5,533.0 546.5,537.7 550.5,541.8 554.5,546.8 558.5,545.4 562.5,544.2 566.5,540.0 570.5,537.5 574.5,524.8 578.5,506.4 582.5,490.2 586.5,497.5 590.5,516.1 594.5,534.8 598.5,544.7 602.5,558.4 606.5,567.7 610.5,567.2 614.5,560.6 618.5,553.0 622.5,545.3 626.5,533.7 630.5,529.0 634.5,526.8 638.5,509.9 642.5,501.2 646.5,506.2 650.5,513.5 654.5,505.3 658.5,494.5 662.5,489.2 666.5,497.6 670.5,502.4 674.5,501.7 678.5,494.3 682.5,495.7 686.5,503.1 690.5,499.9 694.5,492.1 698.5,486.8 702.5,490.1 706.5,502.4 710.5,507.7 714.5,513.8 718.5,499.9 722.5,499.6 726.5,495.0 730.5,494.1 734.5,491.0 738.5,493.0 742.5,496.9 746.5,494.5 750.5,497.7 754.5,499.2 758.5,501.6 762.5,507.8 766.5,513.9 770.5,516.9 774.5,503.9 778.5,495.8 782.5,498.9 786.5,495.9 790.5,506.5 794.5,517.7 798.5,545.4 802.5,553.5 806.5,550.2 810.5,533.5 814.5,518.2 818.5,513.0 822.5,509.0 826.5,512.8 830.5,506.4 834.5,504.1 838.5,489.3 842.5,489.7 846.5,488.3 850.5,488.1 854.5,484.7 858.5,486.0 862.5,492.3 866.5,502.1 870.5,514.3 874.5,523.7 878.5,515.8 882.5,499.7 886.5,485.0 890.5,493.6 894.5,495.3 898.5,505.1 902.5,524.4 906.5,549.8 910.5,565.6 914.5,551.4 918.5,523.0 922.5,495.1 926.5,487.0" fill="none" stroke="#20b2aa" stroke-width="1" />
<polyline points="2.5,504.5 6.5,514.5 10.5,536.5 14.5,555.5 18.5,564.5 22.5,564.5 26.5,561.5 30.5,563.5 34.5,562.5 38.5,556.5 42.5,544.5 46.5,529.8 50.5,521.8 54.5,527.3 58.5,543.7 62.5,550.6 66.5,553.4 70.5,549.2 74.5,548.9 78.5,545.2 82.5,541.4 86.5,529.7 90.5,520.1 94.5,515.3 98.5,524.7 102.5,538.2 106.5,548.5 110.5,550.2 114.5,543.6 118.5,536.9 122.5,527.3 126.5,518.7 130.5,504.0 134.5,496.9 138.5,496.3 142.5,505.3 146.5,507.9 150.5,505.6 154.5,499.0 158.5,494.8 162.5,493.7 166.5,494.7 170.5,503.5 174.5,517.3 178.5,535.0 182.5,547.8 186.5,557.0 190.5,561.0 194.5,562.5 198.5,556.3 202.5,542.7 206.5,522.0 210.5,506.4 214.5,503.2 218.5,514.2 222.5,530.9 226.5,542.0 230.5,543.3 234.5,530.9 238.5,515.6 242.5,502.4 246.5,499.5 250.5,498.5 254.5,496.6 258.5,492.1 262.5,490.7 266.5,496.2 270.5,502.7 274.5,507.2 278.5,503.4 282.5,501.0 286.5,499.4 290.5,506.0 294.5,510.9 298.5,520.2 302.5,527.2 306.5,531.7 310.5,530.0 314.5,524.4 318.5,521.0 322.5,516.5 326.5,508.9 330.5,499.8 334.5,491.6 338.5,490.2 342.5,493.7 346.5,499.6 350.5,501.5 354.5,497.0 358.5,491.0 362.5,488.1 366.5,488.9 370.5,491.4 374.5,495.9 378.5,501.4 382.5,507.7 386.5,511.1 390.5,516.3 394.5,523.3 398.5,534.5 402.5,547.7 406.5,556.1 410.5,554.2 414.5,540.3 418.5,521.7 422.5,508.6 426.5,499.1 430.5,494.1 434.5,490.2 438.5,488.8 442.5,492.2 446.5,495.8 450.5,501.3 454.5,501.1 458.5,498.3 462.5,493.1 466.5,493.8 470.5,503.9 474.5,521.9 478.5,537.0 482.5,549.3 486.5,552.4 490.5,555.4 494.5,554.4 498.5,559.5 502.5,566.5 506.5,572.0 510.5,572.6 514.5,566.5 518.5,557.1 522.5,541.5 526.5,524.7 530.5,506.7 534.5,499.5 538.5,502.4 542.5,516.7 546.5,528.8 550.5,537.5 554.5,542.1 558.5,544.7 562.5,545.5 566.5,543.2 570.5,540.6 574.5,534.1 578.5,522.9 582.5,507.1 586.5,498.0 590.5,501.3 594.5,516.1 598.5,531.9 602.5,546.0 606.5,556.9 610.5,564.4 614.5,565.2 618.5,560.3 622.5,553.0 626.5,544.0 630.5,536.0 634.5,529.8 638.5,521.9 642.5,512.6 646.5,505.8 650.5,507.0 654.5,508.3 658.5,504.4 662.5,496.3 666.5,493.8 670.5,496.4 674.5,500.6 678.5,499.5 682.5,497.3 686.5,497.7 690.5,499.6 694.5,498.4 698.5,492.9 702.5,489.7 706.5,493.1 710.5,500.1 714.5,508.0 718.5,507.1 722.5,504.4 726.5,498.2 730.5,496.2 734.5,493.4 738.5,492.7 742.5,493.6 746.5,494.8 750.5,496.4 754.5,497.1 758.5,499.5 762.5,502.9 766.5,507.8 770.5,512.9 774.5,511.6 778.5,505.5 782.5,499.5 786.5,496.9 790.5,500.4 794.5,506.7 798.5,523.2 802.5,538.9 806.5,549.7 810.5,545.8 814.5,534.0 818.5,521.6 822.5,513.4 826.5,511.6 830.5,509.4 834.5,507.8 838.5,499.9 842.5,494.4 846.5,489.1 850.5,488.7 854.5,487.0 858.5,486.3 862.5,487.7 866.5,493.5 870.5,502.9 874.5,513.4 878.5,517.9 882.5,513.1 886.5,500.2 890.5,492.7 894.5,491.3 898.5,498.0 902.5,508.3 906.5,526.4 910.5,546.6 914.5,555.6 918.5,546.7 922.5,523.2 926.5,501.7" fill="none" stroke="#ff0000" stroke-width="1" stroke-dasharray="3,3"/>
</g>
<g font-family="Liberation Sans, Arial, sans-serif" font-size="10" fill="#000">
<text x="7" y="13" textLength="151" lengthAdjust="spacingAndGlyphs">XAUUSD, Daily:  Gold vs US Dollar</text>
<text x="1153" y="35" textLength="32" lengthAdjust="spacingAndGlyphs">3209.93</text>
<text x="1153" y="67" textLength="32" lengthAdjust="spacingAndGlyphs">3143.09</text>
<text x="1153" y="99" textLength="32" lengthAdjust="spacingAndGlyphs">3076.25</text>
<text x="1153" y="131" textLength="32" lengthAdjust="spacingAndGlyphs">3009.41</text>
<text x="1153" y="163" textLength="32" lengthAdjust="spacingAndGlyphs">2942.57</text>
<text x="1153" y="195" textLength="32" lengthAdjust="spacingAndGlyphs">2875.73</text>
<text x="1153" y="227" textLength="32" lengthAdjust="spacingAndGlyphs">2808.89</text>
<text x="1153" y="259" textLength="32" lengthAdjust="spacingAndGlyphs">2742.05</text>
<text x="1153" y="291" textLength="32" lengthAdjust="spacingAndGlyphs">2675.21</text>
<text x="1153" y="323" textLength="32" lengthAdjust="spacingAndGlyphs">2608.37</text>
<text x="1153" y="355" textLength="32" lengthAdjust="spacingAndGlyphs">2541.53</text>
<text x="1153" y="387" textLength="32" lengthAdjust="spacingAndGlyphs">2474.69</text>
<text x="1153" y="419" textLength="32" lengthAdjust="spacingAndGlyphs">2407.85</text>
<text x="1153" y="451" textLength="32" lengthAdjust="spacingAndGlyphs">2341.01</text>
<rect x="1150" y="22" width="39" height="11" fill="#778899" shape-rendering="crispEdges"/>
<text x="1153" y="31" textLength="32" lengthAdjust="spacingAndGlyphs" fill="#fff">3219.21</text>
<text x="6" y="494" textLength="103" lengthAdjust="spacingAndGlyphs">Stoch(8,3,3) 95.61 80.11</text>
<text x="1154" y="490" textLength="26" lengthAdjust="spacingAndGlyphs">100.00</text>
<text x="1153" y="505" textLength="22" lengthAdjust="spacingAndGlyphs">80.00</text>
<text x="1153" y="563" textLength="22" lengthAdjust="spacingAndGlyphs">20.00</text>
<text x="1153" y="577" textLength="17" lengthAdjust="spacingAndGlyphs">0.00</text>
<text x="2" y="592" textLength="56" lengthAdjust="spacingAndGlyphs">22 May 2024</text>
<text x="66" y="592" textLength="50" lengthAdjust="spacingAndGlyphs">13 Jun 2024</text>
<text x="130" y="592" textLength="43" lengthAdjust="spacingAndGlyphs">5 Jul 2024</text>
<text x="194" y="592" textLength="48" lengthAdjust="spacingAndGlyphs">29 Jul 2024</text>
<text x="258" y="592" textLength="54" lengthAdjust="spacingAndGlyphs">20 Aug 2024</text>
<text x="322" y="592" textLength="52" lengthAdjust="spacingAndGlyphs">11 Sep 2024</text>
<text x="386" y="592" textLength="46.5" lengthAdjust="spacingAndGlyphs">3 Oct 2024</text>
<text x="450" y="592" textLength="51.5" lengthAdjust="spacingAndGlyphs">25 Oct 2024</text>
<text x="514" y="592" textLength="54" lengthAdjust="spacingAndGlyphs">18 Nov 2024</text>
<text x="578" y="592" textLength="52" lengthAdjust="spacingAndGlyphs">10 Dec 2024</text>
<text x="642" y="592" textLength="45" lengthAdjust="spacingAndGlyphs">3 Jan 2025</text>
<text x="706" y="592" textLength="50" lengthAdjust="spacingAndGlyphs">27 Jan 2025</text>
<text x="770" y="592" textLength="52" lengthAdjust="spacingAndGlyphs">18 Feb 2025</text>
<text x="834" y="592" textLength="51.5" lengthAdjust="spacingAndGlyphs">12 Mar 2025</text>
<text x="898" y="592" textLength="46" lengthAdjust="spacingAndGlyphs">3 Apr 2025</text>
</g>
</svg></body></html>
